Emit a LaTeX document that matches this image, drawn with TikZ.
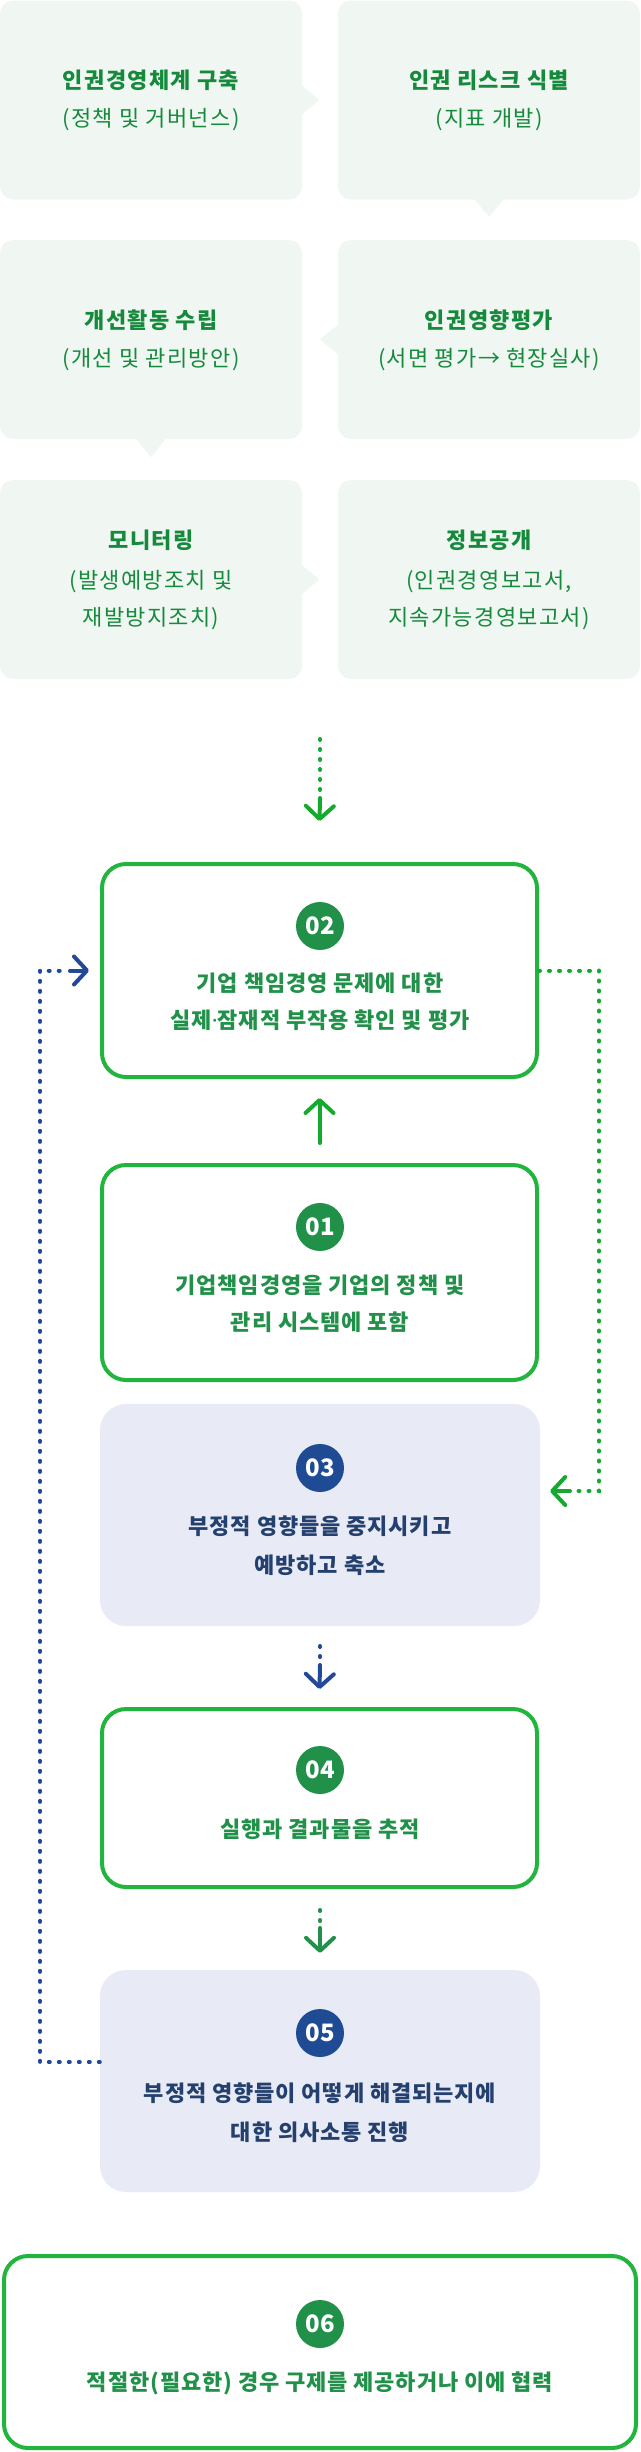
\documentclass[tikz,border=0pt]{standalone}
\usepackage{fontspec}
\setmainfont{Noto Sans CJK KR}
\newfontfamily\gridfont[LetterSpace=6]{Noto Sans CJK KR}
\newfontfamily\stepfont[LetterSpace=4]{Noto Sans CJK KR}
\newfontfamily\latinfont{Noto Sans}
\newcommand{\middot}{{\latinfont\bfseries ·}}
\usetikzlibrary{arrows.meta}

\definecolor{gridfill}{HTML}{F0F7F2}
\definecolor{gridgreen}{HTML}{168A3C}
\definecolor{bordergreen}{HTML}{22B53E}
\definecolor{linkgreen}{HTML}{14AA30}
\definecolor{deepgreen}{HTML}{21914A}
\definecolor{softblue}{HTML}{E8EBF5}
\definecolor{navyfill}{HTML}{1F4A94}
\definecolor{navytext}{HTML}{24406E}
\definecolor{navylink}{HTML}{22489A}

\begin{document}
\begin{tikzpicture}[x=1pt,y=-1pt,
  gridbox/.style={fill=gridfill, rounded corners=13pt, inner sep=0pt,
    minimum width=302pt, minimum height=199pt},
  gtitle/.style={font=\gridfont\bfseries\fontsize{22}{26}\selectfont,
    text=gridgreen, inner sep=0pt},
  gsub/.style={font=\gridfont\fontsize{22}{37}\selectfont,
    text=gridgreen, inner sep=0pt, align=center},
  flowbox/.style={draw=bordergreen, fill=white, line width=4pt,
    rounded corners=24pt, inner sep=0pt, minimum width=435pt},
  softbox/.style={fill=softblue, rounded corners=26pt, inner sep=0pt,
    minimum width=440pt},
  numdot/.style={circle, minimum size=48pt, inner sep=0pt, text=white,
    font=\bfseries\fontsize{24}{24}\selectfont},
  gtext/.style={font=\stepfont\bfseries\fontsize{22}{37}\selectfont,
    text=deepgreen, align=center, inner sep=0pt},
  ntext/.style={font=\stepfont\bfseries\fontsize{22}{39}\selectfont,
    text=navytext, align=center, inner sep=0pt},
  dotline/.style={line width=4pt, line cap=round, dash pattern=on 1pt off 9pt},
  stem/.style={line width=4pt, line cap=round,
    -{Straight Barb[length=13pt,width=28pt,round]}},
]
\useasboundingbox (0,0) rectangle (640,2452);

% ---- four-step cycle grid ----
\node[gridbox] (g1) at (151,100) {};
\node[gridbox] (g2) at (489,100) {};
\node[gridbox] (g3) at (151,339.5) {};
\node[gridbox] (g4) at (489,339.5) {};
\node[gridbox] (g5) at (151,579.5) {};
\node[gridbox] (g6) at (489,579.5) {};

% speech-bubble pointers
\fill[gridfill] ([xshift=-2pt,yshift=16pt]g1.east) -- ([xshift=17pt]g1.east)
  -- ([xshift=-2pt,yshift=-16pt]g1.east) -- cycle;
\fill[gridfill] ([xshift=-16pt,yshift=2pt]g2.south) -- ([yshift=-17pt]g2.south)
  -- ([xshift=16pt,yshift=2pt]g2.south) -- cycle;
\fill[gridfill] ([xshift=2pt,yshift=16pt]g4.west) -- ([xshift=-18pt]g4.west)
  -- ([xshift=2pt,yshift=-16pt]g4.west) -- cycle;
\fill[gridfill] ([xshift=-16pt,yshift=2pt]g3.south) -- ([yshift=-18pt]g3.south)
  -- ([xshift=16pt,yshift=2pt]g3.south) -- cycle;
\fill[gridfill] ([xshift=-2pt,yshift=16pt]g5.east) -- ([xshift=17pt]g5.east)
  -- ([xshift=-2pt,yshift=-16pt]g5.east) -- cycle;

\node[gtitle] (g1t) at (151,80) {인권경영체계 구축};
\node[gsub]   (g1s) at (151,120) {(정책 및 거버넌스)};
\node[gtitle] (g2t) at (489,80) {인권 리스크 식별};
\node[gsub]   (g2s) at (489,120) {(지표 개발)};
\node[gtitle] (g3t) at (151,320) {개선활동 수립};
\node[gsub]   (g3s) at (151,360) {(개선 및 관리방안)};
\node[gtitle] (g4t) at (489,320) {인권영향평가};
\node[gsub]   (g4s) at (489,360) {(서면 평가→ 현장실사)};
\node[gtitle] (g5t) at (151,540) {모니터링};
\node[gsub]   (g5s) at (151,600.5) {(발생예방조치 및\\재발방지조치)};
\node[gtitle] (g6t) at (489,540) {정보공개};
\node[gsub]   (g6s) at (489,600.5) {(인권경영보고서,\\지속가능경영보고서)};

% ---- process boxes ----
\node[flowbox, minimum height=213pt] (b02) at (319.5,970.5) {};
\node[flowbox, minimum height=215pt] (b01) at (319.5,1272.5) {};
\node[softbox, minimum height=222pt] (b03) at (320,1515) {};
\node[flowbox, minimum height=178pt] (b04) at (319.5,1798) {};
\node[softbox, minimum height=222pt] (b05) at (320,2081) {};
\node[flowbox, minimum width=632pt, minimum height=192pt] (b06) at (320,2352) {};

\node[numdot, fill=deepgreen] (n02) at (320,926) {02};
\node[gtext] (t02) at (320,1001.5) {기업 책임경영 문제에 대한\\실제\middot 잠재적 부작용 확인 및 평가};

\node[numdot, fill=deepgreen] (n01) at (320,1227) {01};
\node[gtext] (t01) at (320,1304) {기업책임경영을 기업의 정책 및\\관리 시스템에 포함};

\node[numdot, fill=navyfill] (n03) at (320,1468) {03};
\node[ntext] (t03) at (320,1545.5) {부정적 영향들을 중지시키고\\예방하고 축소};

\node[numdot, fill=deepgreen] (n04) at (320,1770) {04};
\node[gtext] (t04) at (320,1829) {실행과 결과물을 추적};

\node[numdot, fill=navyfill] (n05) at (320,2033) {05};
\node[ntext] (t05) at (320,2112.5) {부정적 영향들이 어떻게 해결되는지에\\대한 의사소통 진행};

\node[numdot, fill=deepgreen] (n06) at (320,2324) {06};
\node[gtext] (t06) at (320,2383) {적절한(필요한) 경우 구제를 제공하거나 이에 협력};

% ---- connectors ----
% from the cycle grid into step 02
\coordinate (in0) at (320,739);
\coordinate (in1) at (320,790);
\coordinate (in2) at (320,798);
\draw[dotline, draw=linkgreen] (in0) -- (in1);
\draw[stem, draw=linkgreen] (in2) -- ([yshift=41pt]b02.north);

% step 01 up to step 02
\draw[stem, draw=linkgreen] ([yshift=20pt]b01.north) -- ([yshift=-19pt]b02.south);

% step 02 around the right side to step 03
\coordinate (rc) at (599,1491);
\coordinate (r1) at (577,1491);
\coordinate (r2) at (570,1491);
\draw[dotline, draw=linkgreen] (b02.east) -| (rc) -- (r1);
\draw[stem, draw=linkgreen] (r2) -- ([xshift=10pt,yshift=24pt]b03.east);

% step 03 down to step 04
\coordinate (d1) at (320,1646);
\coordinate (d2) at (320,1657);
\coordinate (d3) at (320,1665);
\draw[dotline, draw=navylink] (d1) -- (d2);
\draw[stem, draw=navylink] (d3) -- ([yshift=18pt]b04.north);

% step 04 down to step 05
\coordinate (e1) at (320,1910);
\coordinate (e2) at (320,1921);
\coordinate (e3) at (320,1928);
\draw[dotline, draw=deepgreen] (e1) -- (e2);
\draw[stem, draw=deepgreen] (e3) -- ([yshift=17pt]b05.north);

% step 05 back around the left side to step 02
\coordinate (lc) at (40,970.5);
\coordinate (l1) at (62,970.5);
\coordinate (l2) at (70,970.5);
\draw[dotline, draw=navylink] ([yshift=19pt]b05.west) -| (lc) -- (l1);
\draw[stem, draw=navylink] (l2) -- ([xshift=-11pt]b02.west);
\end{tikzpicture}
\end{document}
